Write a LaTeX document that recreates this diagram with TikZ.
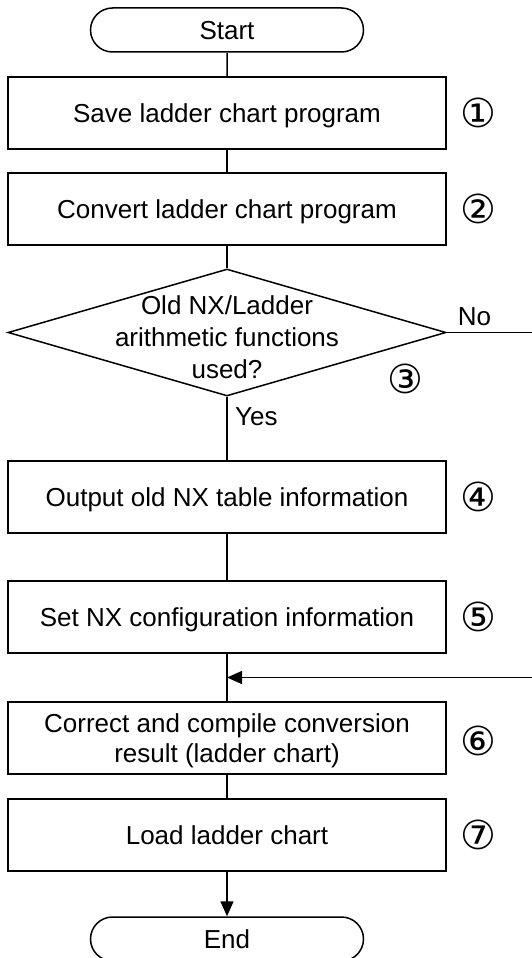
\documentclass[tikz,border=0pt]{standalone}
\usepackage{fontspec}
\setmainfont{Liberation Sans}
\newfontfamily\circfont{DejaVu Sans}
\usetikzlibrary{arrows.meta,positioning,shapes.geometric,shapes.misc}

\begin{document}
\begin{tikzpicture}[
    x=1pt, y=-1pt,
    font=\fontsize{26}{30}\selectfont,
    node distance=22.5pt,
    terminal/.style={rounded rectangle, draw=black, line width=1.5pt, minimum width=273pt, minimum height=44pt, inner sep=0pt, text depth=0pt},
    stepbox/.style={rectangle, draw=black, line width=1.5pt, align=center, minimum width=438pt, minimum height=72pt, inner sep=0pt, text depth=0pt},
    decision/.style={diamond, draw=black, line width=1.5pt, minimum width=438pt, minimum height=127pt, inner sep=0pt},
    tag/.style={font=\circfont\fontsize{40}{40}\selectfont, inner sep=0pt},
    answer/.style={inner sep=0pt, anchor=base west},
    line/.style={line width=1.5pt},
    arrow/.style={-{Triangle[length=15pt,width=13pt]}, line width=1.5pt}
]
\useasboundingbox (0,0) rectangle (531,958);

\node[terminal] (start) at (227,30) {Start};
\node[stepbox, below=23.5pt of start] (s1) {Save ladder chart program};
\node[stepbox, below=of s1] (s2) {Convert ladder chart program};
\node[decision, below=of s2] (s3) {};
\node[align=center, font=\fontsize{26}{32}\selectfont] (q3) at ([yshift=-5pt]s3.center) {Old NX/Ladder\\arithmetic functions\\used?};
\node[stepbox, below=63.5pt of s3] (s4) {Output old NX table information};
\node[stepbox, below=46.5pt of s4] (s5) {Set NX configuration information};
\node[stepbox, below=47.5pt of s5] (s6) {Correct and compile conversion\\result (ladder chart)};
\node[stepbox, below=23.5pt of s6] (s7) {Load ladder chart};
\node[terminal, below=44.5pt of s7] (end) {End};

% step numbers
\node[tag] (n1) at ([xshift=32pt]s1.east) {①};
\node[tag] (n2) at ([xshift=32pt]s2.east) {②};
\node[tag] (n3) at ([xshift=-41pt,yshift=-46pt]s3.east) {③};
\node[tag] (n4) at ([xshift=32pt]s4.east) {④};
\node[tag] (n5) at ([xshift=32pt]s5.east) {⑤};
\node[tag] (n6) at ([xshift=32pt,yshift=-3pt]s6.east) {⑥};
\node[tag] (n7) at ([xshift=32pt]s7.east) {⑦};

\node[answer] (no) at ([xshift=11pt,yshift=7pt]s3.east) {No};
\node[answer] (yes) at ([xshift=8pt,yshift=-29pt]s3.south) {Yes};

\draw[line] (start) -- (s1);
\draw[line] (s1) -- (s2);
\draw[line] (s2) -- (s3);
\draw[line] (s3) -- (s4);
\draw[line] (s4) -- (s5);
\draw[line] (s5) -- (s6);
\draw[line] (s6) -- (s7);
\draw[arrow] (s7) -- (end);

% No branch
\path (s5.south) -- coordinate[pos=0.5] (join) (s6.north);
\coordinate (edge) at (533,0);
\draw[line] (s3.east) -- (s3.east -| edge) -- (join -| edge);
\draw[arrow] (join -| edge) -- (join);
\end{tikzpicture}
\end{document}
